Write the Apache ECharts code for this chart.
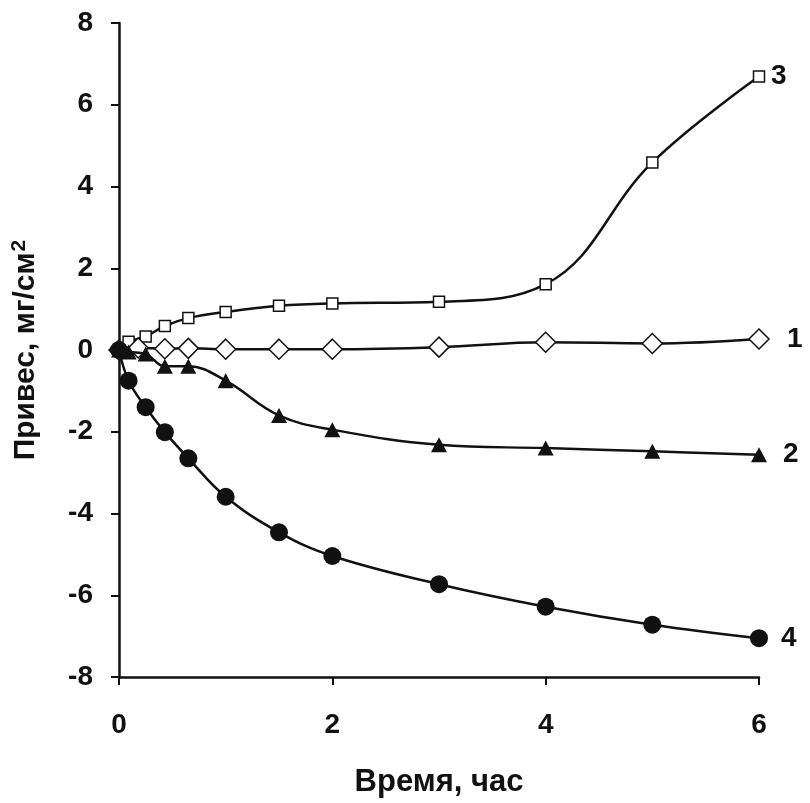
<!DOCTYPE html>
<html>
<head>
<meta charset="utf-8">
<script src="https://cdn.jsdelivr.net/npm/echarts@6/dist/echarts.min.js"></script>
<style>
  html, body { margin: 0; padding: 0; background: #fff; }
  #chart { width: 810px; height: 803px; }
</style>
</head>
<body>
<div id="chart"></div>
<script>
// Weight change of samples over time, four curves
const curve1 = [[0, 0], [0.18, 0.05], [0.43, 0.03], [0.65, 0.04], [1, 0.02], [1.5, 0.02], [2, 0.02], [3, 0.07], [4, 0.19], [5, 0.16], [6, 0.27]];
const curve2 = [[0, 0], [0.09, -0.05], [0.25, -0.1], [0.43, -0.40], [0.65, -0.40], [1, -0.75], [1.5, -1.6], [2, -1.95], [3, -2.32], [4, -2.40], [5, -2.48], [6, -2.56]];
const curve3 = [[0, 0], [0.09, 0.2], [0.25, 0.33], [0.43, 0.59], [0.65, 0.78], [1, 0.93], [1.5, 1.08], [2, 1.14], [3, 1.18], [4, 1.61], [5, 4.59], [6, 6.69]];
const curve4 = [[0, 0], [0.09, -0.75], [0.25, -1.40], [0.43, -2.01], [0.65, -2.65], [1, -3.59], [1.5, -4.46], [2, -5.04], [3, -5.73], [4, -6.28], [5, -6.72], [6, -7.05]];

const curveNames = ['1', '2', '3', '4'];
const xTitle = 'Время, час';
const yTitle = 'Привес, мг/см{sup|2}';

const FONT = '"Liberation Sans", Arial, sans-serif';
const INK = '#111';

function curveSeries(name, data, symbol, size, filled, labelGap, z) {
  return {
    name: name,
    type: 'line',
    data: data,
    smooth: 0.4,
    symbol: symbol,
    symbolSize: size,
    showAllSymbol: true,
    z: z,
    lineStyle: { color: INK, width: 2.5 },
    itemStyle: { color: filled ? INK : '#fff', borderColor: INK, borderWidth: filled ? 0 : 1.5 },
    endLabel: {
      show: true,
      formatter: name,
      distance: labelGap,
      color: INK,
      fontFamily: FONT,
      fontWeight: 'bold',
      fontSize: 28
    },
    emphasis: { disabled: true }
  };
}

const chart = echarts.init(document.getElementById('chart'), null, { renderer: 'canvas' });
chart.setOption({
  animation: false,
  backgroundColor: '#fff',
  grid: { left: 119, right: 51, top: 23, bottom: 125, containLabel: false },
  xAxis: {
    type: 'value',
    min: 0, max: 6, interval: 2,
    name: xTitle,
    nameLocation: 'middle',
    nameGap: 90,
    nameTextStyle: { color: INK, fontFamily: FONT, fontWeight: 'bold', fontSize: 31 },
    axisLine: { onZero: false, lineStyle: { color: INK, width: 2.5 } },
    axisTick: { show: true, length: 8, lineStyle: { color: INK, width: 2 } },
    axisLabel: { color: INK, fontFamily: FONT, fontWeight: 'bold', fontSize: 28, margin: 34 },
    splitLine: { show: false }
  },
  yAxis: {
    type: 'value',
    min: -8, max: 8, interval: 2,
    name: yTitle,
    nameLocation: 'middle',
    nameGap: 76,
    nameTextStyle: {
      color: INK, fontFamily: FONT, fontWeight: 'bold', fontSize: 30, lineHeight: 34,
      rich: {
        sup: { fontFamily: FONT, fontWeight: 'bold', fontSize: 21, color: INK, verticalAlign: 'top', lineHeight: 34, padding: [0, 0, 12, 1] }
      }
    },
    axisLine: { onZero: false, lineStyle: { color: INK, width: 2.5 } },
    axisTick: { show: true, length: 8, lineStyle: { color: INK, width: 2 } },
    axisLabel: { color: INK, fontFamily: FONT, fontWeight: 'bold', fontSize: 28, margin: 26 },
    splitLine: { show: false }
  },
  series: [
    curveSeries(curveNames[0], curve1, 'diamond', [20, 20], false, 28, 3),
    curveSeries(curveNames[1], curve2, 'triangle', [16, 15], true, 24, 4),
    curveSeries(curveNames[2], curve3, 'rect', 11, false, 12, 2),
    curveSeries(curveNames[3], curve4, 'circle', 18, true, 22, 5)
  ]
});
</script>
</body>
</html>
